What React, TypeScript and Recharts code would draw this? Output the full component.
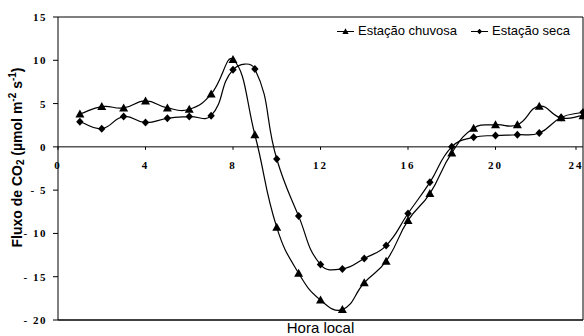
import { LineChart, Line, XAxis, YAxis, ReferenceLine } from 'recharts';

const HOURS = [1, 2, 3, 4, 5, 6, 7, 8, 9, 10, 11, 12, 13, 14, 15, 16, 17, 18, 19, 20, 21, 22, 23, 24];
const CHUVOSA = [3.8, 4.65, 4.5, 5.3, 4.5, 4.35, 6.1, 10.1, 1.4, -9.3, -14.6, -17.7, -18.8, -15.7, -13.2, -8.5, -5.4, -0.7, 2.15, 2.55, 2.55, 4.7, 3.35, 3.6];
const SECA = [2.9, 2.1, 3.5, 2.8, 3.3, 3.5, 3.6, 8.9, 9.0, -1.4, -8.0, -13.6, -14.1, -12.9, -11.4, -7.7, -4.1, 0.0, 1.1, 1.3, 1.4, 1.6, 3.4, 4.0];
const X_TICKS = [0, 4, 8, 12, 16, 20, 24];
const Y_TICKS = [-20, -15, -10, -5, 0, 5, 10, 15];

const Y_MIN = -20;
const Y_MAX = 15;
const WIDTH = 584;
const HEIGHT = 336;
const MARGIN = { top: 17, right: 1, bottom: 0, left: 0 } as const;
const X_AXIS_H = 16;
const Y_AXIS_W = 58;
const PLOT_H = HEIGHT - MARGIN.top - MARGIN.bottom - X_AXIS_H;

const SERIF = '"Liberation Serif", "Times New Roman", serif';
const SANS = '"Liberation Sans", Arial, sans-serif';

const data = HOURS.map((h, i) => ({ hora: h, chuvosa: CHUVOSA[i], seca: SECA[i] }));

// smoothed line through every point, tangents weighted by chord length (Excel-like)
function excelSmooth(context: any) {
  let xs: number[] = [];
  let ys: number[] = [];
  return {
    areaStart() {},
    areaEnd() {},
    lineStart() {
      xs = [];
      ys = [];
    },
    point(x: number, y: number) {
      xs.push(+x);
      ys.push(+y);
    },
    lineEnd() {
      const n = xs.length;
      if (!n) return;
      const dist = (i: number, j: number) => Math.hypot(xs[j] - xs[i], ys[j] - ys[i]);
      context.moveTo(xs[0], ys[0]);
      for (let i = 0; i < n - 1; i++) {
        const a = Math.max(i - 1, 0);
        const d = Math.min(i + 2, n - 1);
        const d01 = dist(a, i);
        const d12 = dist(i, i + 1);
        const d23 = dist(i + 1, d);
        const f1 = d01 + d12 > 0 ? d12 / (d01 + d12) / 2.2 : 0;
        const f2 = d12 + d23 > 0 ? d12 / (d12 + d23) / 2.2 : 0;
        const c1x = xs[i] + (xs[i + 1] - xs[a]) * f1;
        const c1y = ys[i] + (ys[i + 1] - ys[a]) * f1;
        const c2x = xs[i + 1] - (xs[d] - xs[i]) * f2;
        const c2y = ys[i + 1] - (ys[d] - ys[i]) * f2;
        context.bezierCurveTo(c1x, c1y, c2x, c2y, xs[i + 1], ys[i + 1]);
      }
    },
  };
}

function triangle(cx: number, cy: number) {
  return `M${cx},${cy - 4.5}L${cx + 4.5},${cy + 3.5}L${cx - 4.5},${cy + 3.5}Z`;
}

function diamond(cx: number, cy: number) {
  return `M${cx},${cy - 4}L${cx + 3.7},${cy}L${cx},${cy + 4}L${cx - 3.7},${cy}Z`;
}

const TriangleDot = (props: any) => (
  <path key={`t-${props.index}`} d={triangle(props.cx, props.cy)} fill="#000" />
);

const DiamondDot = (props: any) => (
  <path key={`d-${props.index}`} d={diamond(props.cx, props.cy)} fill="#000" />
);

// x labels sit under the zero line, not under the frame
const XTick = (props: any) => {
  const { x, y, payload } = props;
  const zeroY = y - (PLOT_H * (0 - Y_MIN)) / (Y_MAX - Y_MIN);
  return (
    <g>
      <line x1={x} x2={x} y1={zeroY} y2={zeroY + 3} stroke="#000" />
      <text
        x={x}
        y={zeroY + 22}
        textAnchor="middle"
        style={{ fontFamily: SERIF, fontWeight: 700, fontSize: 11, letterSpacing: 2 }}
        fill="#000"
      >
        {payload.value}
      </text>
    </g>
  );
};

const YTick = (props: any) => {
  const { y, payload } = props;
  const label = String(payload.value).replace('-', '- ');
  return (
    <text
      x={Y_AXIS_W - 11}
      y={y}
      dy={4}
      textAnchor="end"
      style={{ fontFamily: SERIF, fontWeight: 700, fontSize: 11, letterSpacing: 1.5, whiteSpace: 'pre' }}
      fill="#000"
    >
      {label}
    </text>
  );
};

const YLabel = () => {
  const cx = 17;
  const cy = MARGIN.top + PLOT_H / 2 - 11;
  return (
    <text
      x={cx}
      y={cy}
      transform={`rotate(-90, ${cx}, ${cy})`}
      textAnchor="middle"
      dominantBaseline="central"
      style={{ fontFamily: SANS, fontWeight: 700, fontSize: 14 }}
      fill="#000"
    >
      Fluxo de CO
      <tspan fontSize={10} dy={3}>2</tspan>
      <tspan dy={-3}> (µmol m</tspan>
      <tspan fontSize={10} dy={-5}>-2</tspan>
      <tspan dy={5}> s</tspan>
      <tspan fontSize={10} dy={-5}>-1</tspan>
      <tspan dy={5}>)</tspan>
    </text>
  );
};

function LegendMark({ kind }: { kind: 'triangle' | 'diamond' }) {
  return (
    <svg width={17} height={10} style={{ display: 'block' }}>
      <line x1={0} x2={17} y1={5.5} y2={5.5} stroke="#000" strokeWidth={1} />
      <path
        d={kind === 'triangle' ? triangle(8.5, 5.5) : diamond(8.5, 5.5)}
        fill="#000"
        transform="translate(8.5 5.5) scale(0.7) translate(-8.5 -5.5)"
      />
    </svg>
  );
}

export default function App() {
  return (
    <div style={{ position: 'relative', width: WIDTH, height: HEIGHT, background: '#fff' }}>
      <style>{'body{margin:0}'}</style>
      <LineChart width={WIDTH} height={HEIGHT} data={data} margin={MARGIN}>
        <XAxis
          dataKey="hora"
          type="number"
          domain={[0, 24]}
          ticks={X_TICKS}
          height={X_AXIS_H}
          tickSize={0}
          tickMargin={0}
          tick={<XTick />}
          axisLine={{ stroke: '#000', strokeWidth: 1.5 }}
          label={{
            value: 'Hora local',
            position: 'center',
            fill: '#000',
            fontSize: 15,
            fontFamily: SANS,
          }}
        />
        <YAxis
          domain={[Y_MIN, Y_MAX]}
          ticks={Y_TICKS}
          width={Y_AXIS_W}
          tickSize={5}
          tickMargin={4}
          tick={<YTick />}
          axisLine={{ stroke: '#000' }}
          tickLine={{ stroke: '#000' }}
          label={<YLabel />}
        />
        <ReferenceLine y={0} stroke="#000" strokeWidth={1} />
        <ReferenceLine y={15} stroke="#000" strokeWidth={1} />
        <ReferenceLine x={24} stroke="#000" strokeWidth={1} />
        <Line
          dataKey="chuvosa"
          type={excelSmooth as any}
          stroke="#000"
          strokeWidth={1.2}
          dot={TriangleDot}
          activeDot={false}
          isAnimationActive={false}
        />
        <Line
          dataKey="seca"
          type={excelSmooth as any}
          stroke="#000"
          strokeWidth={1.2}
          dot={DiamondDot}
          activeDot={false}
          isAnimationActive={false}
        />
      </LineChart>
      <div
        style={{
          position: 'absolute',
          left: 337,
          top: 23,
          display: 'flex',
          alignItems: 'center',
          fontFamily: SANS,
          fontSize: 13,
          lineHeight: '16px',
          color: '#000',
          whiteSpace: 'nowrap',
        }}
      >
        <LegendMark kind="triangle" />
        <span style={{ marginLeft: 4 }}>Estação chuvosa</span>
        <span style={{ marginLeft: 14 }}>
          <LegendMark kind="diamond" />
        </span>
        <span style={{ marginLeft: 4 }}>Estação seca</span>
      </div>
    </div>
  );
}
